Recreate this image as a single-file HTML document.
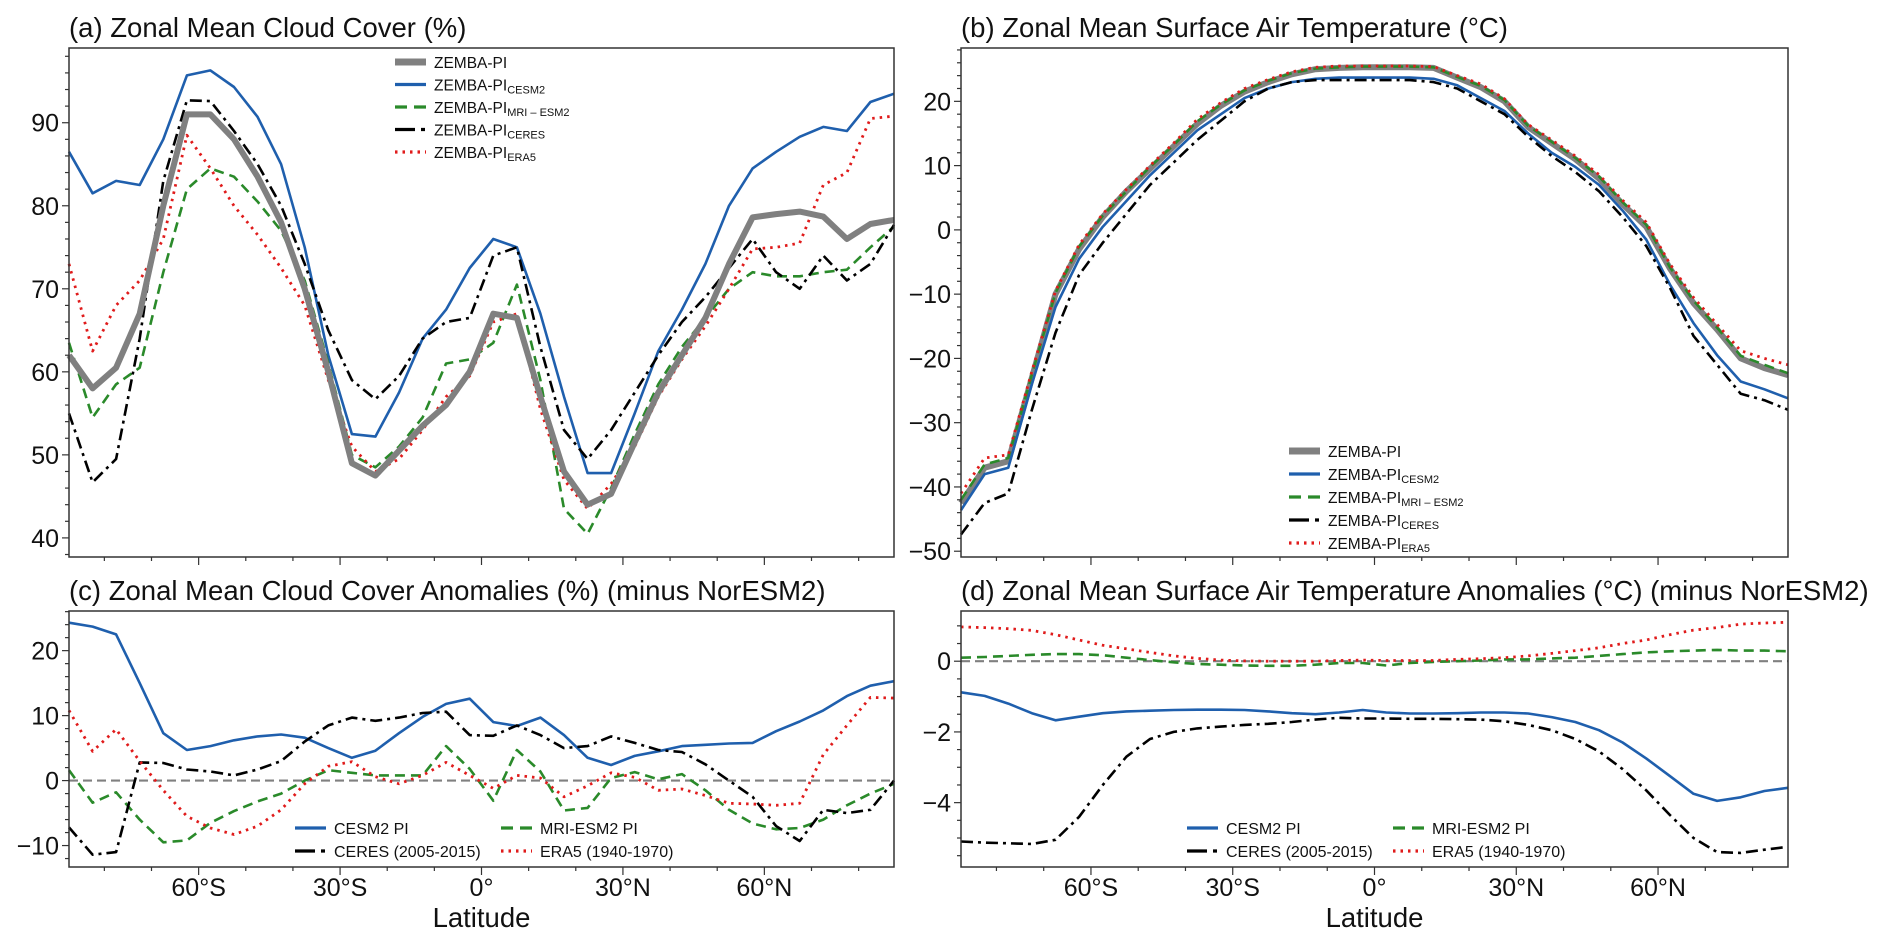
<!DOCTYPE html>
<html><head><meta charset="utf-8"><style>
html,body{margin:0;padding:0;background:#fff;}
svg{display:block;font-family:"Liberation Sans",Arial,sans-serif;}
</style></head><body>
<svg id="fig" width="1892" height="947" viewBox="0 0 1892 947" xmlns="http://www.w3.org/2000/svg"></svg>
<script>
const lats = [-87.5,-82.5,-77.5,-72.5,-67.5,-62.5,-57.5,-52.5,-47.5,-42.5,-37.5,-32.5,-27.5,-22.5,-17.5,-12.5,-7.5,-2.5,2.5,7.5,12.5,17.5,22.5,27.5,32.5,37.5,42.5,47.5,52.5,57.5,62.5,67.5,72.5,77.5,82.5,87.5];
const xTickVals = [-60,-30,0,30,60];
const xTickLabels = ["60°S","30°S","0°","30°N","60°N"];
// Panel a: cloud cover
const aZemba = [62,58,60.5,67,80,91,91,88,83.5,78,70,60,49,47.5,50.5,53.5,56,60,67,66.5,57,48,44,45.3,51.5,57.5,62,66.5,73,78.6,79,79.3,78.7,76,77.8,78.3];
const aCesm = [86.5,81.5,83,82.5,88,95.7,96.3,94.3,90.7,85,75,62,52.5,52.2,57.5,64,67.5,72.5,76,75,67,57,47.8,47.8,55,62.5,67.5,73,80,84.5,86.5,88.3,89.5,89,92.5,93.5];
const aMri = [63.5,54.5,58.5,60.5,72,82,84.5,83.5,80.5,77,71,61,50,48.5,51,54.5,61,61.5,63.5,70.5,59,43.5,40.5,46,52.5,58.5,63,66.5,70,72,71.5,71.5,72,72.3,75,77.5];
const aCeres = [55,46.7,49.5,64,83,92.7,92.6,89,85,80,73,65,59,56.7,59.5,64,66,66.5,74,75,63,53,49.5,53,57.5,62,66,69,72.5,76,72,70,74,71,73,77.7];
const aEra = [73,62.5,68,71,76,88.5,84.5,80,76.5,72.5,68,59,51,48,49.5,53,57,59.5,66,67,55.5,47,43.5,46.5,51,57,61.5,65.5,70,74.8,75,75.5,82.5,84,90.5,90.8];
const aTicks = [40,50,60,70,80,90];
// Panel b: temperature
const bZemba = [-42.5,-37,-36,-23,-10,-3,2,6,9.5,13,16.5,19.3,21.5,23,24.2,25,25.2,25.3,25.3,25.3,25.2,23.7,22.2,20,16,13.5,11,8,4,0.5,-6,-11.4,-15.5,-20,-21.5,-22.6];
const bCesm = [-43.6,-38,-37,-24,-12,-4.5,0.5,4.5,8.5,12,15.5,18,20.5,22,23,23.5,23.7,23.7,23.7,23.7,23.5,22.5,20.5,18.5,15,12,9.8,7,3,-1.5,-8.5,-14.5,-19.5,-23.6,-24.8,-26.2];
const bMri = [-42,-36.5,-35.5,-22.5,-9.8,-2.6,2.2,6,9.8,13.2,16.9,19.5,21.7,23.2,24.4,25.1,25.3,25.4,25.4,25.4,25.3,23.8,22.4,20.2,16.2,13.7,11.2,8.3,4.3,0.8,-5.8,-11,-15.2,-19.6,-21,-22.3];
const bCeres = [-47.4,-42.5,-41,-28,-16,-7,-2,2.5,7,10.5,14,17,20,22,23,23.3,23.3,23.3,23.3,23.3,23,22,20,18,14.5,11.5,9,6,2,-2.5,-9,-16.5,-21,-25.5,-26.5,-28];
const bEra = [-41,-35.5,-35,-22,-9.5,-2.3,2.5,6.3,10,13.5,17.2,19.8,22,23.4,24.6,25.3,25.5,25.5,25.5,25.5,25.4,24,22.7,20.4,16.4,14,11.5,8.6,4.6,1.2,-5.3,-10.5,-14.7,-18.8,-20,-21];
const bTicks = [-50,-40,-30,-20,-10,0,10,20];
// Panel c: cloud anomalies
const cCesm = [24.3,23.7,22.5,15,7.3,4.7,5.3,6.2,6.8,7.1,6.6,5,3.5,4.6,7.3,9.8,11.8,12.6,9,8.4,9.7,7,3.5,2.4,3.8,4.5,5.3,5.5,5.7,5.8,7.6,9.1,10.8,13,14.6,15.3];
const cMri = [1.6,-3.4,-1.8,-6,-9.5,-9.2,-6.5,-4.7,-3.2,-2,0,1.6,1.2,0.8,0.8,0.8,5.3,1.8,-3.1,4.7,1.4,-4.6,-4.2,0.4,1.3,0.2,1,-1.5,-4.5,-6.6,-7.5,-7.3,-6,-3.8,-2,-0.5];
const cCeres = [-7.2,-11.4,-11,2.8,2.7,1.7,1.4,0.8,1.7,3,6,8.5,9.7,9.2,9.7,10.4,10.6,7,6.9,8.5,7,5,5.3,6.8,5.8,4.7,4.4,2.5,0,-2.5,-7,-9.3,-4.5,-5,-4.5,0];
const cEra = [10.8,4.5,7.9,3,-1.5,-5.5,-7.3,-8.3,-7,-4.5,-0.5,2.2,2.9,0.6,-0.5,0.8,2.8,0.8,-1.2,0.8,0.4,-2.5,-0.8,1.2,0.5,-1.5,-1.3,-2.3,-3.5,-3.6,-3.8,-3.5,4,8.5,12.8,12.7];
const cTicks = [-10,0,10,20];
// Panel d: temperature anomalies
const dCesm = [-0.88,-0.98,-1.2,-1.47,-1.67,-1.57,-1.47,-1.42,-1.4,-1.38,-1.37,-1.37,-1.38,-1.42,-1.47,-1.5,-1.45,-1.38,-1.45,-1.48,-1.48,-1.47,-1.45,-1.45,-1.48,-1.58,-1.72,-1.95,-2.3,-2.75,-3.25,-3.75,-3.95,-3.85,-3.67,-3.58];
const dMri = [0.1,0.12,0.15,0.18,0.2,0.2,0.17,0.1,0.03,-0.03,-0.08,-0.1,-0.12,-0.13,-0.13,-0.1,-0.05,-0.05,-0.12,-0.05,-0.02,0,0.02,0.05,0.05,0.08,0.1,0.15,0.2,0.25,0.28,0.3,0.32,0.3,0.3,0.28];
const dCeres = [-5.1,-5.13,-5.15,-5.17,-5.05,-4.4,-3.5,-2.7,-2.2,-2,-1.9,-1.85,-1.8,-1.77,-1.72,-1.65,-1.6,-1.62,-1.62,-1.63,-1.63,-1.64,-1.65,-1.7,-1.8,-1.95,-2.2,-2.55,-3.05,-3.65,-4.35,-5,-5.4,-5.42,-5.33,-5.25];
const dEra = [0.97,0.95,0.92,0.87,0.75,0.6,0.45,0.35,0.25,0.15,0.08,0.03,0.01,0,0,0,0.02,0.03,0.02,0.02,0.02,0.05,0.07,0.1,0.15,0.22,0.3,0.38,0.5,0.6,0.75,0.88,0.95,1.05,1.08,1.1];
const dTicks = [-4,-2,0];

const NS = "http://www.w3.org/2000/svg";
const svg = document.getElementById('fig');
function el(tag, attrs, parent) {
  const e = document.createElementNS(NS, tag);
  for (const k in attrs) e.setAttribute(k, attrs[k]);
  (parent || svg).appendChild(e);
  return e;
}
const STY = {
  zemba: {stroke:'#808080', w:6, dash:null},
  cesm: {stroke:'#1f5fad', w:2.6, dash:null},
  mri: {stroke:'#2a8a2a', w:2.6, dash:'10,6'},
  ceres: {stroke:'#000', w:2.6, dash:'12,5,3,5'},
  era: {stroke:'#e01b1b', w:2.8, dash:'2.5,5'}
};
function panel(cfg) {
  const g = el('g', {});
  
  
  const x = v => cfg.x0 + (v + 87.5) / 175 * (cfg.x1 - cfg.x0);
  const y = v => cfg.y0 + (cfg.ymax - v) / (cfg.ymax - cfg.ymin) * (cfg.y1 - cfg.y0);
  const t = el('text', {x: cfg.x0, y: cfg.y0 - 11, 'font-size': 27.5, fill: '#111'}, g);
  t.textContent = cfg.title;
  
  
  if (cfg.zero) {
    const z = el('line', {x1: cfg.x0, x2: cfg.x1, y1: y(0), y2: y(0), stroke: '#808080', 'stroke-width': 2.2, 'stroke-dasharray': '9,5'}, g);
    
    
  }
  cfg.series.forEach(s => {
    const st = STY[s.key];
    const d = lats.map((la, i) => (i ? 'L' : 'M') + x(la).toFixed(1) + ',' + y(s.vals[i]).toFixed(1)).join(' ');
    const p = el('path', {d: d, fill: 'none', stroke: st.stroke, 'stroke-width': st.w, 'stroke-linejoin': 'round'}, g);
    if (st.dash) p.setAttribute('stroke-dasharray', st.dash);
    
    
  });
  const fr = el('rect', {x: cfg.x0, y: cfg.y0, width: cfg.x1 - cfg.x0, height: cfg.y1 - cfg.y0, fill: 'none', stroke: '#333', 'stroke-width': 1.5}, g);
  
  
  for (let v = Math.ceil(cfg.ymin / cfg.minor) * cfg.minor; v <= cfg.ymax; v += cfg.minor) {
    const vv = Math.round(v * 1000) / 1000;
    const major = cfg.yticks.includes(vv);
    el('line', {x1: cfg.x0, x2: cfg.x0 - (major ? 7 : 4), y1: y(vv), y2: y(vv), stroke: '#333', 'stroke-width': 1.2}, g);
  }
  cfg.yticks.forEach(v => {
    const tl = el('text', {x: cfg.x0 - 10, y: y(v) + 9, 'font-size': 25, 'text-anchor': 'end', fill: '#111'}, g);
    tl.textContent = v < 0 ? '\u2212' + Math.abs(v) : String(v);
    
    
  });
  for (let v = -80; v <= 80; v += 10) {
    const major = v % 30 === 0;
    el('line', {x1: x(v), x2: x(v), y1: cfg.y1, y2: cfg.y1 + (major ? 8 : 4), stroke: '#333', 'stroke-width': 1.2}, g);
  }
  if (cfg.xlabels) {
    xTickVals.forEach((v, i) => {
      const tl = el('text', {x: x(v), y: cfg.y1 + 29, 'font-size': 25, 'text-anchor': 'middle', fill: '#111'}, g);
      tl.textContent = xTickLabels[i];
      
      
    });
    const xl = el('text', {x: x(0), y: cfg.y1 + 60, 'font-size': 27.5, 'text-anchor': 'middle', fill: '#111'}, g);
    xl.textContent = 'Latitude';
    
    
  }
  const lg = el('g', {}, g);
  
  
  cfg.legend.forEach(L => {
    const st = STY[L.key];
    const ln = el('line', {x1: L.x, x2: L.x + 31, y1: L.y, y2: L.y, stroke: st.stroke, 'stroke-width': st.w === 6 ? 7 : 3.2}, lg);
    if (st.dash) ln.setAttribute('stroke-dasharray', L.key === 'ceres' ? '20,6,4,6' : (L.key === 'mri' ? '12,7' : st.dash));
    const tx = el('text', {x: L.x + 39, y: L.y + 6, 'font-size': L.fs || 15.5, fill: '#111'}, lg);
    
    
    tx.textContent = L.text;
    if (L.sub) {
      const ts = el('tspan', {'font-size': 11, dy: 3}, tx);
      ts.textContent = L.sub;
    }
  });
}
function zLegend(x0, y0, dy) {
  return [
    {key:'zemba', text:'ZEMBA-PI', x:x0, y:y0},
    {key:'cesm', text:'ZEMBA-PI', sub:'CESM2', x:x0, y:y0+dy},
    {key:'mri', text:'ZEMBA-PI', sub:'MRI \u2013 ESM2', x:x0, y:y0+2*dy},
    {key:'ceres', text:'ZEMBA-PI', sub:'CERES', x:x0, y:y0+3*dy},
    {key:'era', text:'ZEMBA-PI', sub:'ERA5', x:x0, y:y0+4*dy}
  ];
}
function aLegend(x0, y0, x1) {
  return [
    {key:'cesm', text:'CESM2 PI', x:x0, y:y0, fs:16},
    {key:'mri', text:'MRI-ESM2 PI', x:x1, y:y0, fs:16},
    {key:'ceres', text:'CERES (2005-2015)', x:x0, y:y0+23, fs:16},
    {key:'era', text:'ERA5 (1940-1970)', x:x1, y:y0+23, fs:16}
  ];
}
panel({name:'panel-a-cloud-cover', title:'(a) Zonal Mean Cloud Cover (%)', x0:69, x1:894, y0:48, y1:557, ymin:37.7, ymax:99, yticks:aTicks, minor:2, xlabels:false,
  series:[{key:'cesm',vals:aCesm},{key:'mri',vals:aMri},{key:'ceres',vals:aCeres},{key:'era',vals:aEra},{key:'zemba',vals:aZemba}],
  legend: zLegend(395, 62, 22.5)});
panel({name:'panel-b-surface-temperature', title:'(b) Zonal Mean Surface Air Temperature (\u00B0C)', x0:961, x1:1788, y0:48, y1:557, ymin:-50.9, ymax:28.3, yticks:bTicks, minor:2, xlabels:false,
  series:[{key:'zemba',vals:bZemba},{key:'cesm',vals:bCesm},{key:'ceres',vals:bCeres},{key:'mri',vals:bMri},{key:'era',vals:bEra}],
  legend: zLegend(1289, 451, 23)});
panel({name:'panel-c-cloud-anomalies', title:'(c) Zonal Mean Cloud Cover Anomalies (%) (minus NorESM2)', x0:69, x1:894, y0:611, y1:867, ymin:-13.3, ymax:26.1, yticks:cTicks, minor:2, xlabels:true, zero:true,
  series:[{key:'cesm',vals:cCesm},{key:'mri',vals:cMri},{key:'ceres',vals:cCeres},{key:'era',vals:cEra}],
  legend: aLegend(295, 828, 501)});
panel({name:'panel-d-temperature-anomalies', title:'(d) Zonal Mean Surface Air Temperature Anomalies (\u00B0C) (minus NorESM2)', x0:961, x1:1788, y0:611, y1:867, ymin:-5.82, ymax:1.42, yticks:dTicks, minor:0.5, xlabels:true, zero:true,
  series:[{key:'cesm',vals:dCesm},{key:'mri',vals:dMri},{key:'ceres',vals:dCeres},{key:'era',vals:dEra}],
  legend: aLegend(1187, 828, 1393)});
</script>
</body></html>
